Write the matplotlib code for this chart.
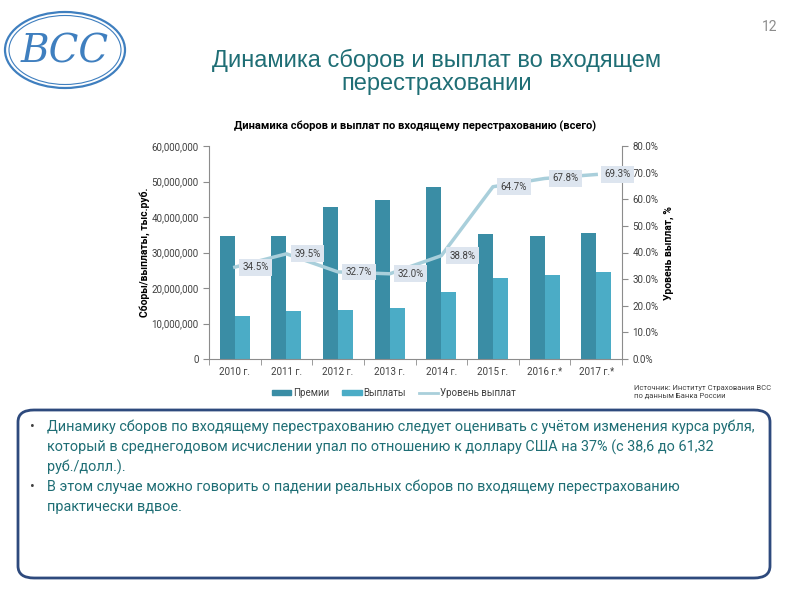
import matplotlib
matplotlib.use("Agg")
import matplotlib.pyplot as plt
from matplotlib.patches import Ellipse, FancyBboxPatch, Patch
from matplotlib.lines import Line2D
from matplotlib.ticker import FuncFormatter, FixedLocator
import numpy as np

plt.rcParams['font.family'] = ['Roboto', 'DejaVu Sans']

# ------------------------------------------------------------------
# Donnees
# ------------------------------------------------------------------
annees = ["2010 г.", "2011 г.", "2012 г.", "2013 г.", "2014 г.", "2015 г.", "2016 г.*", "2017 г.*"]
premii = [34.6e6, 34.6e6, 42.8e6, 44.8e6, 48.5e6, 35.2e6, 34.7e6, 35.5e6]
vyplaty = [12.1e6, 13.6e6, 13.8e6, 14.4e6, 18.9e6, 22.8e6, 23.7e6, 24.5e6]
uroven = [34.5, 39.5, 32.7, 32.0, 38.8, 64.7, 67.8, 69.3]

c_prem = "#3a8da5"
c_vypl = "#4bacc6"
c_line = "#a9cfdb"
c_teal = "#1f6e75"
c_axis = "#8c8c8c"

fig = plt.figure(figsize=(8, 6), dpi=100)

# ------------------------------------------------------------------
# Logo + titre de la page
# ------------------------------------------------------------------
logo = fig.add_axes([0, 0.84, 0.17, 0.16])
logo.set_xlim(0, 136)
logo.set_ylim(0, 96)
logo.axis("off")
logo.add_patch(Ellipse((65, 46), 120, 76, fill=False, ec="#3f7fbf", lw=1.6))
logo.add_patch(Ellipse((65, 46), 112, 69, fill=False, ec="#3f7fbf", lw=0.8))
logo.text(65, 44, "ВСС", ha="center", va="center", fontsize=28, color="#3f7fbf",
          fontstyle="italic", family=["DejaVu Serif"])

fig.text(770 / 800, 1 - 27 / 600, "12", ha="center", va="center", fontsize=10, color="#8c8c8c")
fig.text(437 / 800, 1 - 72 / 600, "Динамика сборов и выплат во входящем\nперестраховании",
         ha="center", va="center", fontsize=17, color=c_teal, linespacing=1.1,
         family=["Liberation Sans", "DejaVu Sans"])

# ------------------------------------------------------------------
# Graphique
# ------------------------------------------------------------------
ax = fig.add_axes([209 / 800, 1 - 359 / 600, 413 / 800, 213 / 600])
x = np.arange(len(annees))
w = 0.29
ax.bar(x - w / 2, premii, w, color=c_prem, zorder=2)
ax.bar(x + w / 2, vyplaty, w, color=c_vypl, zorder=2)
ax.set_xlim(-0.5, len(annees) - 0.5)
ax.set_ylim(0, 60e6)
ax.set_yticks(np.arange(0, 60e6 + 1, 10e6))
ax.yaxis.set_major_formatter(FuncFormatter(lambda v, p: f"{v:,.0f}"))
ax.set_xticks(x)
ax.set_xticklabels(annees)
ax.xaxis.set_minor_locator(FixedLocator(np.arange(-0.5, len(annees), 1)))
ax.tick_params(axis="x", which="major", length=0, pad=6, labelsize=7, colors="#404040")
ax.tick_params(axis="x", which="minor", length=4, color=c_axis)
ax.tick_params(axis="y", length=4, color=c_axis, labelsize=7, labelcolor="#404040")
for s in ["top", "right"]:
    ax.spines[s].set_visible(False)
for s in ["left", "bottom"]:
    ax.spines[s].set_color(c_axis)
ax.set_ylabel("Сборы/выплаты, тыс.руб.", fontsize=7.5, fontweight="bold", labelpad=1)
ax.set_title("Динамика сборов и выплат по входящему перестрахованию (всего)",
             fontsize=8, fontweight="bold", pad=12)

ax2 = ax.twinx()
ax2.plot(x, uroven, color=c_line, lw=2.5, zorder=3)
ax2.set_ylim(0, 80)
ax2.set_yticks(np.arange(0, 81, 10))
ax2.yaxis.set_major_formatter(FuncFormatter(lambda v, p: f"{v:.1f}%"))
ax2.tick_params(axis="y", length=4, color=c_axis, labelsize=7, labelcolor="#404040")
for s in ["top", "left", "bottom"]:
    ax2.spines[s].set_visible(False)
ax2.spines["right"].set_color(c_axis)
ax2.set_ylabel("Уровень выплат, %", fontsize=7.5, fontweight="bold", labelpad=4)

for xi, v in zip(x, uroven):
    ax2.annotate(f"{v:.1f}%", (xi, v), xytext=(21, 0), textcoords="offset pixels",
                 ha="center", va="center", fontsize=7, color="#404040", zorder=4,
                 bbox=dict(boxstyle="square,pad=0.35", fc="#dde5ef", ec="none"))

handles = [Patch(color=c_prem, label="Премии"),
           Patch(color=c_vypl, label="Выплаты"),
           Line2D([], [], color=c_line, lw=2, label="Уровень выплат")]
fig.legend(handles=handles, loc="center", bbox_to_anchor=(394 / 800, 1 - 393 / 600), ncol=3,
           frameon=False, fontsize=7, handlelength=2.0, handleheight=0.5, handletextpad=0.2,
           columnspacing=1.3, labelcolor="#404040")

fig.text(634 / 800, 1 - 392 / 600, "Источник: Институт Страхования ВСС\nпо данным Банка России",
         ha="left", va="center", fontsize=5.5, color="#404040", linespacing=1.4)

# ------------------------------------------------------------------
# Encadre texte
# ------------------------------------------------------------------
fig.patches.append(FancyBboxPatch((18 / 800, 1 - 578 / 600), 752 / 800, 168 / 600,
                                  boxstyle="round,pad=0,rounding_size=0.02",
                                  transform=fig.transFigure, fc="white", ec="#2e4a7d", lw=2))

lignes = [
    ("•", "Динамику сборов по входящему перестрахованию следует оценивать с учётом изменения курса рубля,"),
    ("", "который в среднегодовом исчислении упал по отношению к доллару США на 37% (с 38,6 до 61,32"),
    ("", "руб./долл.)."),
    ("•", "В этом случае можно говорить о падении реальных сборов по входящему перестрахованию"),
    ("", "практически вдвое."),
]
y0 = 427
for i, (b, t) in enumerate(lignes):
    yy = 1 - (y0 + i * 20) / 600
    if b:
        fig.text(32 / 800, yy, b, ha="center", va="center", fontsize=10, color="#404040")
    fig.text(47 / 800, yy, t, ha="left", va="center", fontsize=10.4, color=c_teal)

fig.savefig("out.png", dpi=100)
